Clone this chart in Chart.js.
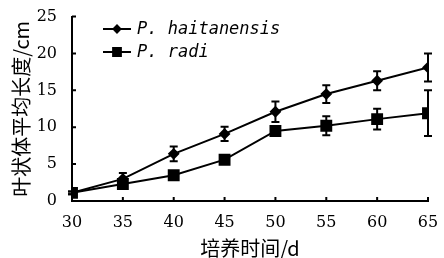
<!DOCTYPE html>
<html lang="zh">
<head>
  <meta charset="UTF-8">
  <title>叶状体平均长度</title>
  <script src="https://cdn.jsdelivr.net/npm/chart.js"></script>
  <style>
    body { margin: 0; background: #fff; }
    #wrap { width: 444px; height: 258px; }
  </style>
</head>
<body>
  <div id="wrap"><canvas id="chart" width="444" height="258"></canvas></div>

  <script>
    // culture days
    const days = [30, 35, 40, 45, 50, 55, 60, 65];
    // mean thallus length (cm) and error
    const haitanensis = [1.1, 3.0, 6.4, 9.1, 12.1, 14.5, 16.3, 18.1];
    const haitanensisErr = [0.2, 0.8, 1.0, 0.95, 1.4, 1.2, 1.3, 1.9];
    const radi = [1.1, 2.3, 3.5, 5.6, 9.5, 10.2, 11.1, 11.9];
    const radiErr = [0.2, 0.3, 0.3, 0.3, 0.5, 1.3, 1.4, 3.1];
    const seriesNames = ['P. haitanensis', 'P. radi'];

    const toPoints = (vals) => vals.map((v, i) => ({ x: days[i], y: v }));

    // error bars, drawn with the chart's own scales
    const errorBars = {
      id: 'errorBars',
      beforeDatasetsDraw(chart) {
        const { ctx, scales: { x, y } } = chart;
        const errs = [haitanensisErr, radiErr];
        ctx.save();
        ctx.strokeStyle = '#000';
        ctx.lineWidth = 2;
        chart.data.datasets.forEach((ds, di) => {
          ds.data.forEach((p, i) => {
            const px = x.getPixelForValue(p.x);
            const top = y.getPixelForValue(p.y + errs[di][i]);
            const bot = y.getPixelForValue(p.y - errs[di][i]);
            ctx.beginPath();
            ctx.moveTo(px, top); ctx.lineTo(px, bot);
            ctx.moveTo(px - 4, top); ctx.lineTo(px + 4, top);
            ctx.moveTo(px - 4, bot); ctx.lineTo(px + 4, bot);
            ctx.stroke();
          });
        });
        ctx.restore();
      }
    };

    // inward tick marks
    const innerTicks = {
      id: 'innerTicks',
      afterDraw(chart) {
        const { ctx, scales: { x, y }, chartArea } = chart;
        ctx.save();
        ctx.strokeStyle = '#000';
        ctx.lineWidth = 2;
        ctx.beginPath();
        x.ticks.forEach(t => {
          const px = x.getPixelForValue(t.value);
          ctx.moveTo(px, chartArea.bottom); ctx.lineTo(px, chartArea.bottom - 4);
        });
        y.ticks.forEach(t => {
          const py = y.getPixelForValue(t.value);
          ctx.moveTo(chartArea.left, py); ctx.lineTo(chartArea.left + 4, py);
        });
        ctx.stroke();
        ctx.restore();
      }
    };

    // legend with line + marker samples
    const legendMarkerSize = [3.5, 5.5];
    const lineLegend = {
      id: 'lineLegend',
      afterDraw(chart) {
        const { ctx } = chart;
        ctx.save();
        chart.data.datasets.forEach((ds, i) => {
          const cy = 29 + i * 23;
          ctx.strokeStyle = '#000';
          ctx.lineWidth = 2;
          ctx.beginPath();
          ctx.moveTo(103, cy); ctx.lineTo(131, cy);
          ctx.stroke();
          ctx.fillStyle = '#000';
          Chart.helpers.drawPoint(ctx, {
            pointStyle: ds.pointStyle, radius: legendMarkerSize[i], rotation: 0, borderWidth: 1
          }, 117, cy);
          ctx.fill();
          ctx.font = 'italic 17px "DejaVu Sans Mono"';
          ctx.textBaseline = 'middle';
          ctx.textAlign = 'left';
          ctx.fillText(ds.label, 137, cy + 1);
        });
        ctx.restore();
      }
    };

    new Chart(document.getElementById('chart'), {
      type: 'line',
      data: {
        datasets: [{
          label: seriesNames[0],
          data: toPoints(haitanensis),
          borderColor: '#000',
          backgroundColor: '#000',
          borderWidth: 2,
          pointStyle: 'rectRot',
          pointRadius: 4.5,
          tension: 0
        }, {
          label: seriesNames[1],
          data: toPoints(radi),
          borderColor: '#000',
          backgroundColor: '#000',
          borderWidth: 2,
          pointStyle: 'rect',
          pointRadius: 7,
          tension: 0
        }]
      },
      options: {
        responsive: false,
        animation: false,
        layout: { padding: { top: 15, right: 16, left: 0, bottom: 0 } },
        plugins: { legend: { display: false }, tooltip: { enabled: false } },
        scales: {
          x: {
            type: 'linear',
            min: 30, max: 65,
            afterFit(s) { s.height = 57; },
            ticks: {
              stepSize: 5, color: '#000', padding: 4,
              font: { family: '"DejaVu Serif"', size: 16 }
            },
            grid: { display: false },
            border: { display: true, color: '#000', width: 2 },
            title: {
              display: true, text: '培养时间/d', color: '#000',
              font: { family: '"Noto Sans CJK SC"', size: 20, lineHeight: 1 },
              padding: { top: 0, bottom: 0 }
            }
          },
          y: {
            min: 0, max: 25,
            afterFit(s) { s.width = 72; },
            ticks: {
              stepSize: 5, color: '#000', padding: 7,
              font: { family: '"DejaVu Serif"', size: 16 }
            },
            grid: { display: false },
            border: { display: true, color: '#000', width: 2 },
            title: {
              display: true, text: '叶状体平均长度/cm', color: '#000',
              font: { family: '"Noto Sans CJK SC"', size: 20, lineHeight: 1 },
              padding: { top: 11, bottom: 0 }
            }
          }
        }
      },
      plugins: [errorBars, innerTicks, lineLegend]
    });
  </script>
</body>
</html>
